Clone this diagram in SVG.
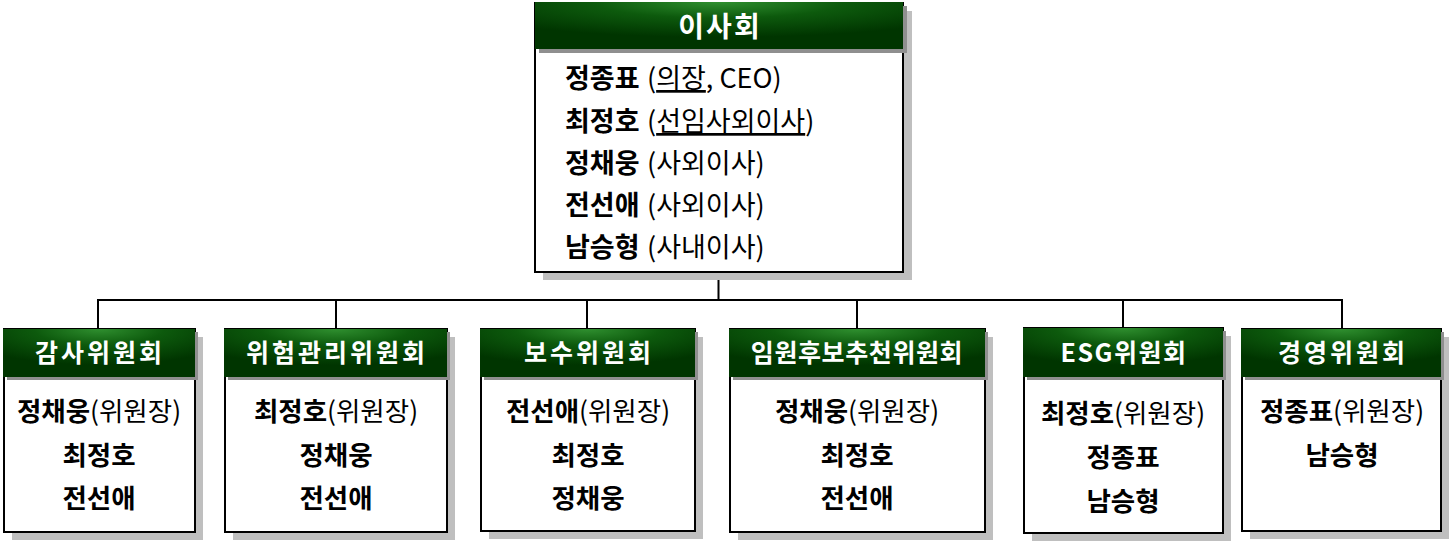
<svg xmlns="http://www.w3.org/2000/svg" width="1451" height="544" viewBox="0 0 1451 544">
<defs>
<radialGradient id="hg" cx="50%" cy="0%" r="75%" fx="50%" fy="0%">
<stop offset="0" stop-color="#2f8f2f"/>
<stop offset="0.45" stop-color="#0d5a0d"/>
<stop offset="1" stop-color="#003500"/>
</radialGradient>
<style>
.shadow{fill:#bfbfbf}
.hshadow{fill:#8f8f8f}
.box{fill:#fff;stroke:#000;stroke-width:2}
.head{fill:url(#hg)}
.ht{font-family:"Noto Sans CJK KR","Noto Sans",sans-serif;font-weight:bold;fill:#fff;font-size:25px;text-anchor:middle;letter-spacing:3px}
.bt{font-family:"Noto Sans CJK KR","Noto Sans",sans-serif;font-size:26.5px;fill:#000;text-anchor:middle}
.tt{font-family:"Noto Sans CJK KR","Noto Sans",sans-serif;font-size:27px;fill:#000}
.b{font-weight:bold}
.u{text-decoration:underline}
.conn{stroke:#000;stroke-width:2;fill:none}
</style>
</defs>
<rect width="1451" height="544" fill="#fff"/>

<g id="connectors">
<path class="conn" d="M718.5,272 V300 M98,300 H1342 M98,299 V329 M336,299 V329 M587,299 V329 M857,299 V329 M1123,299 V328 M1342,299 V329"/>
</g>

<g id="board">
<rect class="shadow" x="543" y="11" width="369" height="269"/>
<rect class="box" x="535" y="3" width="368" height="269"/>
<rect class="hshadow" x="539" y="6" width="368" height="47"/>
<rect class="head" x="535" y="2" width="368" height="47"/>
<text class="ht" x="720" y="37" style="font-size:28px;letter-spacing:2px">이사회</text>
<text class="tt" x="565" y="88"><tspan class="b">정종표</tspan><tspan x="647">(<tspan class="u">의장</tspan>, CEO)</tspan></text>
<text class="tt" x="565" y="131"><tspan class="b">최정호</tspan><tspan x="647">(<tspan class="u">선임사외이사</tspan>)</tspan></text>
<text class="tt" x="565" y="173"><tspan class="b">정채웅</tspan><tspan x="647">(사외이사)</tspan></text>
<text class="tt" x="565" y="215"><tspan class="b">전선애</tspan><tspan x="647">(사외이사)</tspan></text>
<text class="tt" x="565" y="257"><tspan class="b">남승형</tspan><tspan x="647">(사내이사)</tspan></text>
</g>

<g id="audit">
<rect class="shadow" x="12" y="337" width="191" height="203"/>
<rect class="box" x="4" y="329" width="191" height="203"/>
<rect class="hshadow" x="7" y="332" width="191" height="48"/>
<rect class="head" x="3" y="329" width="192" height="48"/>
<text class="ht" x="100" y="362">감사위원회</text>
<text class="bt" x="99" y="421"><tspan class="b">정채웅</tspan>(위원장)</text>
<text class="bt b" x="99" y="465">최정호</text>
<text class="bt b" x="99" y="508">전선애</text>
</g>

<g id="risk">
<rect class="shadow" x="233" y="337" width="222" height="203"/>
<rect class="box" x="225" y="329" width="222" height="203"/>
<rect class="hshadow" x="228" y="332" width="222" height="48"/>
<rect class="head" x="224" y="329" width="223" height="48"/>
<text class="ht" x="337" y="362">위험관리위원회</text>
<text class="bt" x="336" y="421"><tspan class="b">최정호</tspan>(위원장)</text>
<text class="bt b" x="336" y="465">정채웅</text>
<text class="bt b" x="336" y="508">전선애</text>
</g>

<g id="compensation">
<rect class="shadow" x="489" y="337" width="214" height="202"/>
<rect class="box" x="481" y="329" width="214" height="202"/>
<rect class="hshadow" x="484" y="332" width="214" height="48"/>
<rect class="head" x="480" y="329" width="215" height="48"/>
<text class="ht" x="589" y="362">보수위원회</text>
<text class="bt" x="588" y="421"><tspan class="b">전선애</tspan>(위원장)</text>
<text class="bt b" x="588" y="465">최정호</text>
<text class="bt b" x="588" y="508">정채웅</text>
</g>

<g id="nomination">
<rect class="shadow" x="738" y="337" width="255" height="203"/>
<rect class="box" x="730" y="329" width="255" height="203"/>
<rect class="hshadow" x="733" y="332" width="255" height="48"/>
<rect class="head" x="729" y="329" width="256" height="48"/>
<text class="ht" x="857" y="362" style="letter-spacing:0.6px">임원후보추천위원회</text>
<text class="bt" x="857" y="421"><tspan class="b">정채웅</tspan>(위원장)</text>
<text class="bt b" x="857" y="465">최정호</text>
<text class="bt b" x="857" y="508">전선애</text>
</g>

<g id="esg">
<rect class="shadow" x="1032" y="336" width="199" height="205"/>
<rect class="box" x="1024" y="328" width="199" height="205"/>
<rect class="hshadow" x="1027" y="331" width="199" height="49"/>
<rect class="head" x="1023" y="328" width="200" height="49"/>
<text class="ht" x="1124" y="362" style="letter-spacing:1.5px">ESG위원회</text>
<text class="bt" x="1123" y="423"><tspan class="b">최정호</tspan>(위원장)</text>
<text class="bt b" x="1123" y="467">정종표</text>
<text class="bt b" x="1123" y="511">남승형</text>
</g>

<g id="management">
<rect class="shadow" x="1250" y="337" width="199" height="202"/>
<rect class="box" x="1242" y="329" width="199" height="202"/>
<rect class="hshadow" x="1245" y="332" width="199" height="48"/>
<rect class="head" x="1241" y="329" width="200" height="48"/>
<text class="ht" x="1343" y="362">경영위원회</text>
<text class="bt" x="1342" y="421"><tspan class="b">정종표</tspan>(위원장)</text>
<text class="bt b" x="1342" y="465">남승형</text>
</g>
</svg>
